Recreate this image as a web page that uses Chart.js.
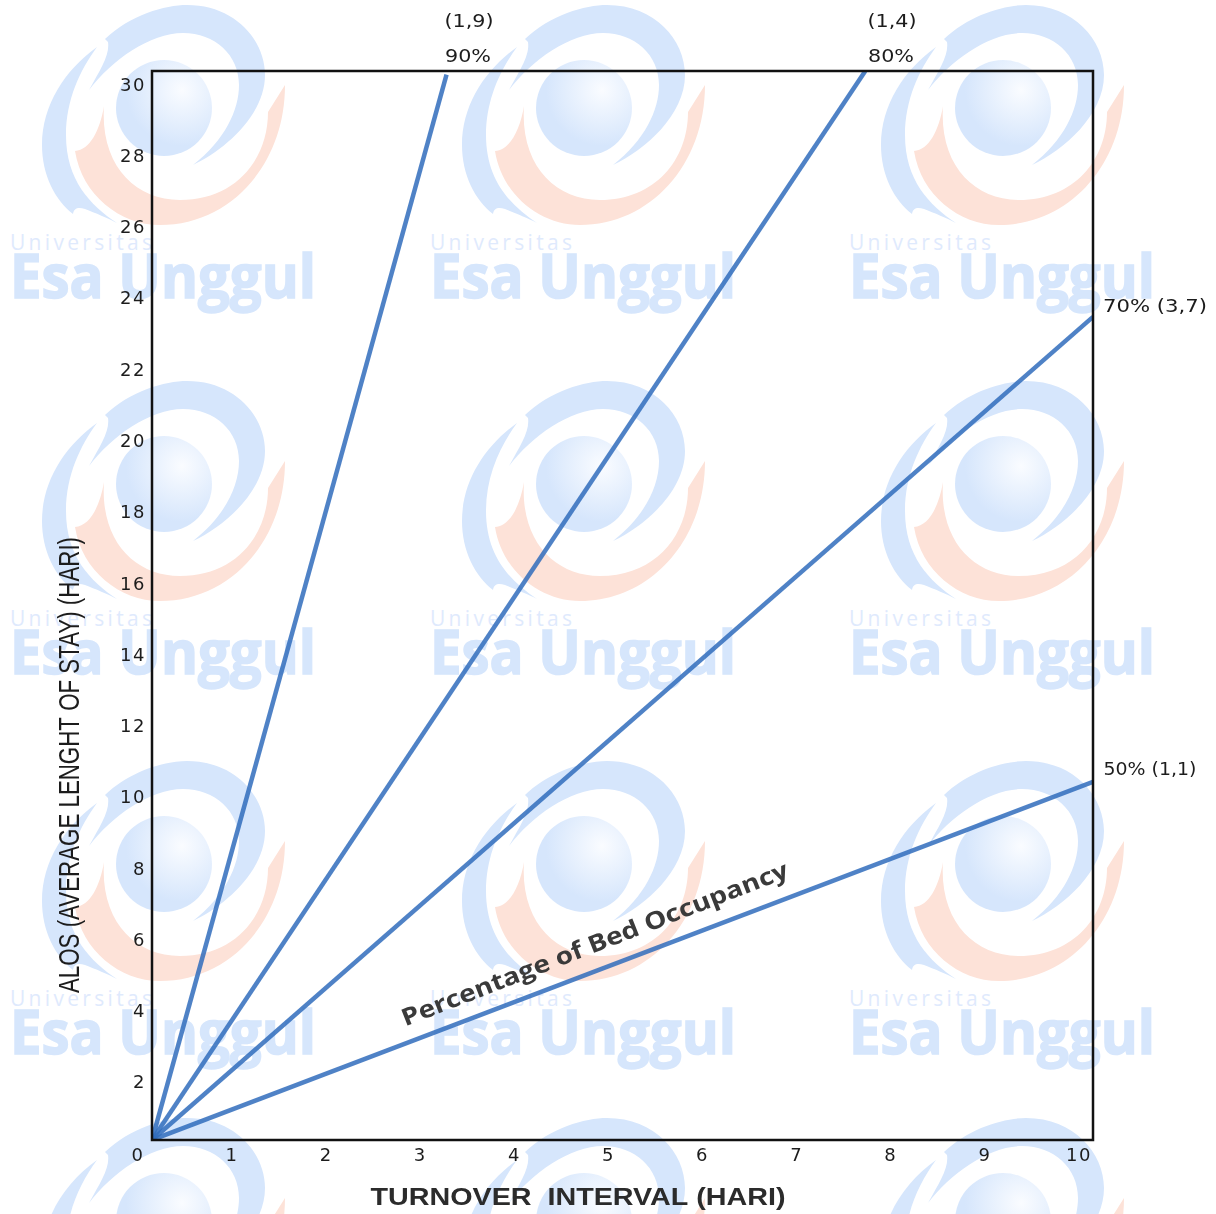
<!DOCTYPE html>
<html>
<head>
<meta charset="utf-8">
<title>Grafik Barber Johnson</title>
<script src="https://cdn.jsdelivr.net/npm/chart.js@4"></script>
<style>
    html, body { margin: 0; padding: 0; background: #fff; overflow: hidden; }
    #wrap { position: relative; width: 1216px; height: 1214px; overflow: hidden; }
    #watermark { position: absolute; left: 0; top: 0; }
    #chart { position: absolute; left: 0; top: 0; filter: blur(0.6px); }
</style>
</head>
<body>
<div id="wrap">
    <!-- Watermark behind the chart, one tile repeated -->
    <svg id="watermark" width="1216" height="1214" xmlns="http://www.w3.org/2000/svg" xmlns:xlink="http://www.w3.org/1999/xlink">
        <defs>
            <radialGradient id="ball" gradientUnits="userSpaceOnUse" cx="182" cy="90" r="56">
                <stop offset="0" stop-color="#fafcff"/>
                <stop offset="1" stop-color="#d6e6fc"/>
            </radialGradient>
            <g id="logo">
                <circle cx="164" cy="108" r="48" fill="url(#ball)"/>
                <path fill="#d6e6fc" d="M105,39 C130,15 165,5 187,5 C235,5 265,40 265,75 C265,115 225,150 193,165 C225,140 239,110 239,85 C239,55 215,33 183,33 C150,33 112,60 89,90 C100,70 110,55 108,42 Z"/>
                <path fill="#d6e6fc" d="M97,47 C65,70 42,105 42,145 C42,175 55,200 73,214 C74,208 78,207 85,209 C95,213 108,218 117,223 C90,205 66,180 66,135 C66,100 80,70 97,47 Z"/>
                <path fill="#fde2d8" d="M104,106 C100,130 90,150 75,151 C82,195 120,225 160,225 C230,225 285,165 285,85 L268,112 C268,160 235,200 180,200 C135,200 100,165 104,106 Z"/>
            </g>
            <g id="word">
                <text x="10" y="250" font-family="Open Sans" font-size="21" fill="#dfeafd" textLength="142" lengthAdjust="spacing">Universitas</text>
                <text x="10" y="298" font-family="Open Sans" font-weight="700" font-size="60" fill="#d6e6fc" stroke="#d6e6fc" stroke-width="1.6" textLength="306" lengthAdjust="spacingAndGlyphs">Esa Unggul</text>
            </g>
        </defs>
        <use xlink:href="#logo" x="0" y="0"/><use xlink:href="#logo" x="420" y="0"/><use xlink:href="#logo" x="839" y="0"/>
        <use xlink:href="#logo" x="0" y="376"/><use xlink:href="#logo" x="420" y="376"/><use xlink:href="#logo" x="839" y="376"/>
        <use xlink:href="#logo" x="0" y="756"/><use xlink:href="#logo" x="420" y="756"/><use xlink:href="#logo" x="839" y="756"/>
        <use xlink:href="#logo" x="0" y="1113"/><use xlink:href="#logo" x="420" y="1113"/><use xlink:href="#logo" x="839" y="1113"/>
        <use xlink:href="#word" x="0" y="0"/><use xlink:href="#word" x="420" y="0"/><use xlink:href="#word" x="839" y="0"/>
        <use xlink:href="#word" x="0" y="376"/><use xlink:href="#word" x="420" y="376"/><use xlink:href="#word" x="839" y="376"/>
        <use xlink:href="#word" x="0" y="756"/><use xlink:href="#word" x="420" y="756"/><use xlink:href="#word" x="839" y="756"/>
    </svg>
    <canvas id="chart" width="1216" height="1214"></canvas>
</div>
<script>
// Values (x = turnover interval, y = ALOS)
const xTickLabels = [0, 1, 2, 3, 4, 5, 6, 7, 8, 9, 10];
const yTickLabels = [2, 4, 6, 8, 10, 12, 14, 16, 18, 20, 22, 24, 26, 28, 30];
const line90x = [0, 3.13];
const line90y = [0, 29.9];
const line80x = [0, 7.58];
const line80y = [0, 30];
const line70x = [0, 10];
const line70y = [0, 23.1];
const line50x = [0, 10];
const line50y = [0, 10.05];

const toPoints = (xs, ys) => xs.map((x, i) => ({ x, y: ys[i] }));

const lineStyle = {
    borderColor: 'rgba(48, 108, 188, 0.85)',
    borderWidth: 4.5,
    pointRadius: 0,
    tension: 0
};

// Draw a text squeezed or stretched to a given width
function drawFitted(ctx, text, x, y, width, font, color, angle = 0) {
    ctx.save();
    ctx.font = font;
    ctx.fillStyle = color;
    ctx.textAlign = 'center';
    ctx.textBaseline = 'middle';
    ctx.translate(x, y);
    ctx.rotate(angle);
    ctx.scale(width / ctx.measureText(text).width, 1);
    ctx.fillText(text, 0, 0);
    ctx.restore();
}

const frameAndLabels = {
    id: 'frameAndLabels',
    beforeDraw(chart) {
        // Tick digits in the reference are set wide
        chart.ctx.letterSpacing = '1.5px';
    },
    afterDraw(chart) {
        const { ctx, chartArea: a, scales: { x, y } } = chart;
        ctx.letterSpacing = '0px';

        // Plot frame
        ctx.save();
        ctx.strokeStyle = '#111';
        ctx.lineWidth = 2.5;
        ctx.strokeRect(a.left, a.top, a.right - a.left, a.bottom - a.top);
        ctx.restore();

        const small = '18px "DejaVu Sans"';
        const ink = '#1c1c1c';

        // Line labels above and to the right of the frame
        drawFitted(ctx, '(1,9)', 469, 22, 49, small, ink);
        drawFitted(ctx, '90%', 468, 57, 46, small, ink);
        drawFitted(ctx, '(1,4)', 892, 22, 49, small, ink);
        drawFitted(ctx, '80%', 891, 57, 46, small, ink);
        drawFitted(ctx, '70% (3,7)', 1155, 307, 104, small, ink);
        drawFitted(ctx, '50% (1,1)', 1150, 770, 93, small, ink);

        // Caption that runs along the lowest line
        drawFitted(ctx, 'Percentage of Bed Occupancy', x.getPixelForValue(4.71), y.getPixelForValue(5.47), 413,
            'bold 24px "Open Sans"', '#3a3a3a', Math.atan2(-150, 385));

        // Axis titles
        drawFitted(ctx, 'TURNOVER  INTERVAL (HARI)', 578, 1199, 415, 'bold 23px "Liberation Sans"', '#2b2b2b');
        drawFitted(ctx, 'ALOS (AVERAGE LENGHT OF STAY) (HARI)', 71, 765, 456, '29px "Liberation Sans"', '#1c1c1c', -Math.PI / 2);
    }
};

new Chart(document.getElementById('chart'), {
    type: 'line',
    data: {
        datasets: [
            { label: '90%', data: toPoints(line90x, line90y), ...lineStyle },
            { label: '80%', data: toPoints(line80x, line80y), ...lineStyle },
            { label: '70%', data: toPoints(line70x, line70y), ...lineStyle },
            { label: '50%', data: toPoints(line50x, line50y), ...lineStyle }
        ]
    },
    options: {
        responsive: false,
        animation: false,
        layout: { padding: { top: 71, right: 123, left: 0, bottom: 0 } },
        plugins: { legend: { display: false }, tooltip: { enabled: false } },
        scales: {
            x: {
                type: 'linear',
                min: 0,
                max: 10,
                afterFit(scale) { scale.height = 74; },
                afterBuildTicks(scale) { scale.ticks = xTickLabels.map(value => ({ value })); },
                grid: { display: false, drawTicks: false },
                border: { display: false },
                ticks: {
                    autoSkip: false,
                    maxRotation: 0,
                    padding: 6,
                    labelOffset: -14,
                    color: '#1c1c1c',
                    font: { family: 'DejaVu Sans', size: 18 }
                }
            },
            y: {
                type: 'linear',
                min: 0,
                max: 30,
                afterFit(scale) { scale.width = 152; },
                afterBuildTicks(scale) { scale.ticks = yTickLabels.map(value => ({ value })); },
                grid: { display: false, drawTicks: false },
                border: { display: false },
                ticks: {
                    autoSkip: false,
                    padding: 6,
                    labelOffset: 15,
                    color: '#1c1c1c',
                    font: { family: 'DejaVu Sans', size: 18 }
                }
            }
        }
    },
    plugins: [frameAndLabels]
});
</script>
</body>
</html>
